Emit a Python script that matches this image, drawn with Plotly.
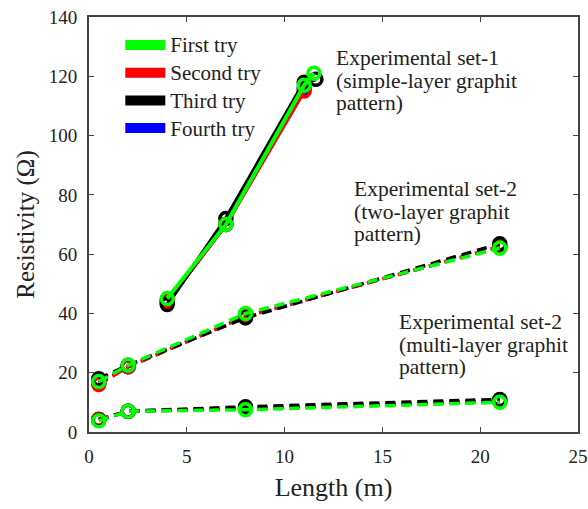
import plotly.graph_objects as go

# Experimental set-1 (single-layer, solid lines)
s1_green_x = [4, 7, 11, 11.5]
s1_green_y = [45, 70, 117, 121]
s1_red_x = [4, 7, 11]
s1_red_y = [44, 70, 115]
s1_black_x = [4, 7, 11, 11.6]
s1_black_y = [43, 72, 118, 119]
s1_blue_x = [4, 7, 11]
s1_blue_y = [44, 70, 116]

# Experimental set-2 (two-layer, dashed)
s2_x = [0.5, 2, 8, 21]
s2_green_y = [17, 22.5, 40, 62]
s2_red_y = [16, 22, 39, 62.5]
s2_black_y = [18, 22.5, 38.5, 63.5]
s2_blue_y = [16.5, 22, 39, 62.5]

# Experimental set-2 (multi-layer, dashed)
s3_x = [0.5, 2, 8, 21]
s3_green_y = [3.8, 7, 7.5, 10]
s3_red_y = [4.3, 7, 8, 10.5]
s3_black_y = [4, 7, 8.5, 11]
s3_blue_y = [4.2, 7, 8, 10.5]

names = ["First try", "Second try", "Third try", "Fourth try"]
colors = {"green": "#00ff00", "red": "#ff0000", "black": "#000000", "blue": "#0000ff"}

labels = [
    "Experimental set-1<br>(simple-layer graphit<br>pattern)",
    "Experimental set-2<br>(two-layer graphit<br>pattern)",
    "Experimental set-2<br>(multi-layer graphit<br>pattern)",
]

fig = go.Figure()

def add(x, y, color, dash, width):
    fig.add_trace(go.Scatter(
        x=x, y=y, mode="lines+markers", showlegend=False,
        line=dict(color=color, width=width, dash=dash),
        marker=dict(symbol="circle-open", size=12, color=color, line=dict(width=3.5, color=color)),
    ))

# draw order: blue, red, black, green (green on top)
for key, s1x, s1y, s2y, s3y in [
    ("blue", s1_blue_x, s1_blue_y, s2_blue_y, s3_blue_y),
    ("red", s1_red_x, s1_red_y, s2_red_y, s3_red_y),
    ("black", s1_black_x, s1_black_y, s2_black_y, s3_black_y),
    ("green", s1_green_x, s1_green_y, s2_green_y, s3_green_y),
]:
    c = colors[key]
    add(s1x, s1y, c, "solid", 4)
    add(s2_x, s2y, c, "10px,6px", 3.5)
    add(s3_x, s3y, c, "10px,6px", 3.5)

for name, key in zip(names, ["green", "red", "black", "blue"]):
    fig.add_trace(go.Scatter(x=[None], y=[None], mode="lines",
                             name='<span style="font-size:21px">' + name + '</span>',
                             line=dict(color=colors[key], width=12)))

font = "Liberation Serif, Times New Roman, serif"
ann_font = dict(family=font, size=17.4, color="#222")
for text, (ax, ay) in zip(labels, [(12.5, 131), (13.45, 86.8), (15.75, 42)]):
    fig.add_annotation(x=ax, y=ay, xanchor="left", yanchor="top", align="left", showarrow=False,
                       text='<span style="font-size:21.5px">' + text.replace("<br>", '</span><br><span style="font-size:21.5px">') + '</span>',
                       font=ann_font)

axis_common = dict(showline=True, linecolor="#444", linewidth=2, mirror="ticks",
                   ticks="inside", ticklen=5, tickcolor="#444", showgrid=False, zeroline=False,
                   automargin=False,
                   tickfont=dict(family=font, size=19, color="#222"))
fig.update_xaxes(range=[0, 25], dtick=5, ticklabelstandoff=6,
                 title=dict(text="Length (m)", font=dict(family=font, size=26, color="#222"), standoff=12),
                 **axis_common)
fig.update_yaxes(range=[0, 140], dtick=20, ticklabelstandoff=6,
                 title=dict(text="Resistivity (Ω)", font=dict(family=font, size=25, color="#222"), standoff=7),
                 **axis_common)

fig.update_layout(
    width=588, height=509,
    margin=dict(l=89, r=10, t=17, b=77),
    plot_bgcolor="white", paper_bgcolor="white",
    legend=dict(x=0.064, y=0.978, xanchor="left", yanchor="top",
                font=dict(family=font, size=19, color="#222"),
                bgcolor="rgba(0,0,0,0)", tracegroupgap=0, itemwidth=40),
)

fig.write_html("out.html", config={"displayModeBar": False},
               post_script="document.body.style.margin='0';document.body.style.overflow='hidden';")
